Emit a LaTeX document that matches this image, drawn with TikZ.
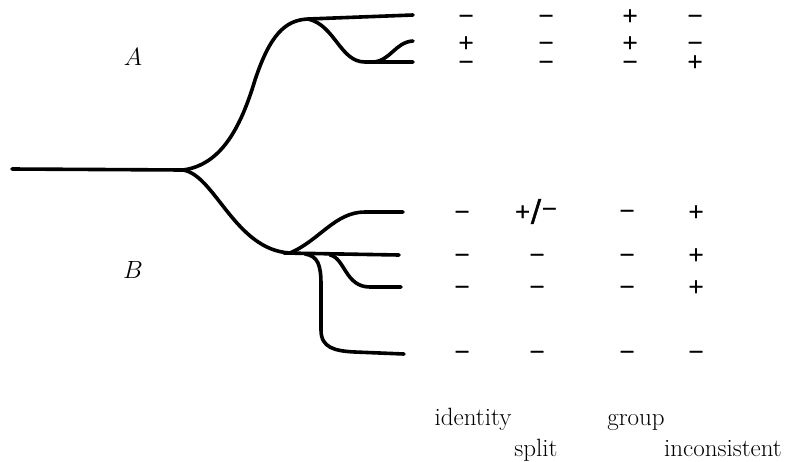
\documentclass[tikz,border=0pt]{standalone}
\usepackage{fontspec}
\newfontfamily\signfont{DejaVu Sans}[FakeBold=1.5]
\begin{document}
\begin{tikzpicture}[x=1pt,y=-1pt,
  branch/.style={line width=3.6pt,line cap=round,line join=round},
  sgn/.style={inner sep=0pt,text height=12pt,text depth=0pt,font=\signfont\fontsize{20}{20}\selectfont},
  lbl/.style={inner sep=0pt,font=\fontsize{25}{30}\selectfont},
  grp/.style={inner sep=0pt,font=\fontsize{24}{28}\selectfont}]
\useasboundingbox (0,0) rectangle (789,461);
% junctions
\coordinate (r0) at (12,169);
\coordinate (j0) at (183,170);
\coordinate (ja) at (308,19);
\coordinate (jb) at (290,253);
% root
\draw[branch] (r0) -- (j0);
% upper group A
\draw[branch] (j0) .. controls (220,165) and (240,130) .. (255,80)
  .. controls (270,35) and (285,20) .. (ja) -- (413,15);
\draw[branch] (ja) .. controls (335,25) and (340,62) .. (365,62) -- (413,62);
\draw[branch] (372,62) .. controls (390,62) and (395,42) .. (413,41);
% lower group B
\draw[branch] (j0) .. controls (215,175) and (235,250) .. (jb);
\draw[branch] (jb) .. controls (320,240) and (335,212) .. (365,212) -- (403,212);
\draw[branch] (284,253) -- (399,255);
\draw[branch] (330,255) .. controls (345,258) and (345,287) .. (370,287) -- (401,287);
\draw[branch] (305,254) .. controls (318,256) and (321,265) .. (321,285) -- (321,330)
  .. controls (321,348) and (335,351) .. (355,352) -- (404,354);
% labels
\node[grp] (la) at (133,57) {$A$};
\node[grp] (lb) at (133,270) {$B$};
% signs group A
\node[sgn] (a11) at (466,16) {−};
\node[sgn] (a12) at (546,16) {−};
\node[sgn] (a13) at (630,16) {+};
\node[sgn] (a14) at (695,16) {−};
\node[sgn] (a21) at (466,43) {+};
\node[sgn] (a22) at (546,43) {−};
\node[sgn] (a23) at (630,43) {+};
\node[sgn] (a24) at (695,43) {−};
\node[sgn] (a31) at (466,62) {−};
\node[sgn] (a32) at (546,62) {−};
\node[sgn] (a33) at (630,62) {−};
\node[sgn] (a34) at (695,62) {+};
% signs group B
\node[sgn] (b11) at (462,212) {−};
\node[sgn] (b12) at (536,212) {+{\fontsize{30}{30}\selectfont\raisebox{-3pt}{/}}\raisebox{3pt}{−}};
\node[sgn] (b13) at (627,211) {−};
\node[sgn] (b14) at (696,212) {+};
\node[sgn] (b21) at (462,255) {−};
\node[sgn] (b22) at (537,255) {−};
\node[sgn] (b23) at (627,255) {−};
\node[sgn] (b24) at (696,255) {+};
\node[sgn] (b31) at (462,287) {−};
\node[sgn] (b32) at (537,287) {−};
\node[sgn] (b33) at (627,287) {−};
\node[sgn] (b34) at (696,287) {+};
\node[sgn] (b41) at (462,352) {−};
\node[sgn] (b42) at (537,352) {−};
\node[sgn] (b43) at (627,352) {−};
\node[sgn] (b44) at (696,352) {−};
% column labels
\node[lbl,anchor=base] (identity) at (473,425) {identity};
\node[lbl,anchor=base] (group) at (636,425) {group};
\node[lbl,anchor=base] (split) at (536,456) {split};
\node[lbl,anchor=base] (incons) at (723,456) {inconsistent};
\end{tikzpicture}
\end{document}
